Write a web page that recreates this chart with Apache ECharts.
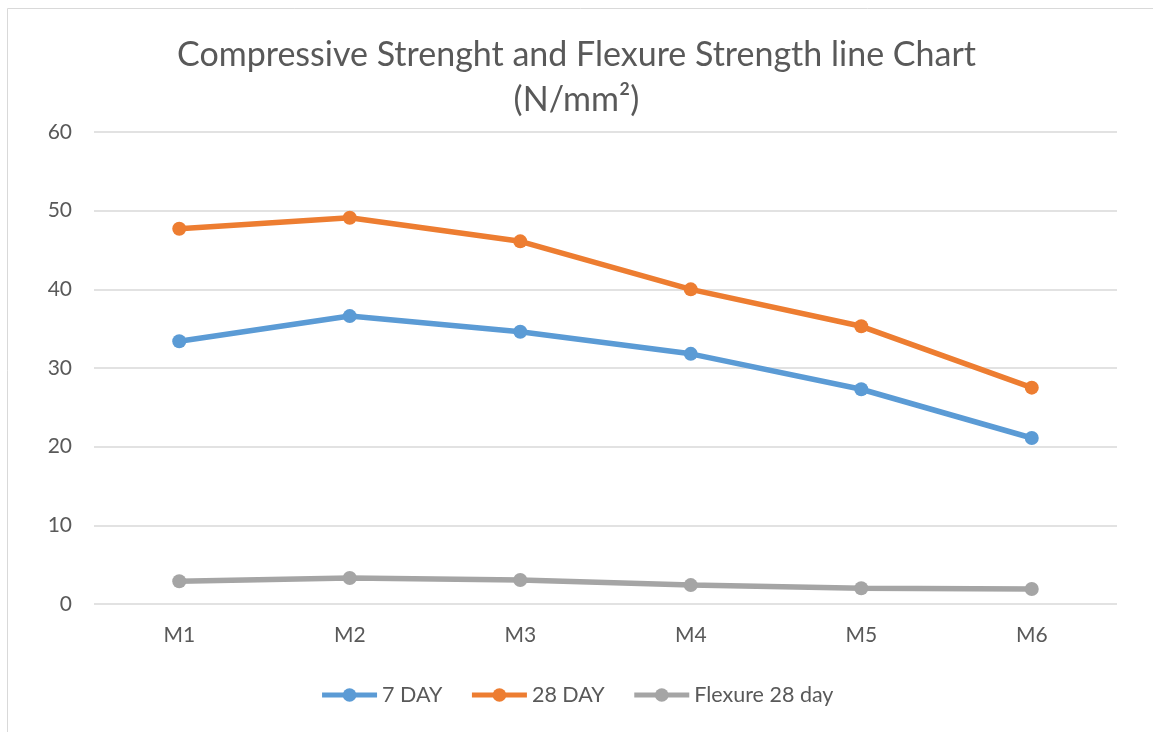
<!DOCTYPE html>
<html>
<head>
<meta charset="utf-8">
<script src="https://cdn.jsdelivr.net/npm/echarts@6/dist/echarts.min.js"></script>
<style>
  html, body { margin: 0; padding: 0; background: #fff; }
  #chart { width: 1153px; height: 732px; }
</style>
</head>
<body>
<div id="chart"></div>
<script>
// Mix designations along the x axis
const categories = ['M1', 'M2', 'M3', 'M4', 'M5', 'M6'];
// Strength values in N/mm²
const day7 = [33.4, 36.6, 34.6, 31.8, 27.3, 21.1];
const day28 = [47.7, 49.1, 46.1, 40.0, 35.3, 27.5];
const flexure28 = [2.9, 3.3, 3.05, 2.4, 2.0, 1.9];
const yTicks = [0, 10, 20, 30, 40, 50, 60];

const textColor = '#595959';
const fontFamily = 'Lato, "Open Sans", sans-serif';

function lineSeries(name, data, color) {
  return {
    name: name,
    type: 'line',
    data: data,
    symbol: 'circle',
    symbolSize: 14,
    lineStyle: { width: 5.5, color: color },
    itemStyle: { color: color },
    emphasis: { disabled: true }
  };
}

const chart = echarts.init(document.getElementById('chart'));
chart.setOption({
  animation: false,
  textStyle: { fontFamily: fontFamily, color: textColor },
  graphic: [{
    type: 'rect',
    silent: true,
    shape: { x: 7.5, y: 8.5, width: 1300, height: 900 },
    style: { fill: 'none', stroke: '#d9d9d9', lineWidth: 1 }
  }],
  title: {
    text: 'Compressive Strenght and Flexure Strength line Chart\n(N/mm²)',
    left: 'center',
    top: 28,
    textStyle: {
      fontFamily: fontFamily,
      fontWeight: 'normal',
      fontSize: 34,
      lineHeight: 45,
      color: textColor
    }
  },
  legend: {
    bottom: 21,
    left: 'center',
    itemWidth: 55,
    itemHeight: 17,
    itemGap: 27,
    lineStyle: { width: 5 },
    textStyle: { fontFamily: fontFamily, fontSize: 21.5, color: textColor },
    data: ['7 DAY', '28 DAY', 'Flexure 28 day']
  },
  grid: { left: 94, right: 36, top: 132, bottom: 128 },
  xAxis: {
    type: 'category',
    data: categories,
    boundaryGap: true,
    axisLine: { show: false },
    axisTick: { show: false },
    axisLabel: { fontSize: 21, color: textColor, margin: 21, fontFamily: fontFamily }
  },
  yAxis: {
    type: 'value',
    min: yTicks[0],
    max: yTicks[yTicks.length - 1],
    interval: yTicks[1] - yTicks[0],
    axisLine: { show: false },
    axisTick: { show: false },
    axisLabel: { fontSize: 21, color: textColor, margin: 22, fontFamily: fontFamily },
    splitLine: { lineStyle: { color: '#d9d9d9', width: 1.5 } }
  },
  series: [
    lineSeries('7 DAY', day7, '#5b9bd5'),
    lineSeries('28 DAY', day28, '#ed7d31'),
    lineSeries('Flexure 28 day', flexure28, '#a5a5a5')
  ]
});
</script>
</body>
</html>
